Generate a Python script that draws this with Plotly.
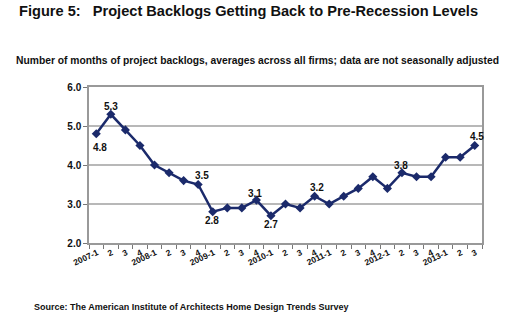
import plotly.graph_objects as go

# Quarterly project backlog (months), 2007-Q1 .. 2013-Q3
quarters = ["2007-1", "2", "3", "4", "2008-1", "2", "3", "4", "2009-1", "2", "3", "4",
            "2010-1", "2", "3", "4", "2011-1", "2", "3", "4", "2012-1", "2", "3", "4",
            "2013-1", "2", "3"]
backlog = [4.8, 5.3, 4.9, 4.5, 4.0, 3.8, 3.6, 3.5, 2.8, 2.9, 2.9, 3.1,
           2.7, 3.0, 2.9, 3.2, 3.0, 3.2, 3.4, 3.7, 3.4, 3.8, 3.7, 3.7,
           4.2, 4.2, 4.5]

# Which points get a value label, and the label's pixel offset (dx, dy) from the marker
label_offsets = {0: (4, -14), 1: (0, 8), 7: (4, 9), 8: (-1, -9), 11: (-1, 7),
                 12: (0, -9), 15: (2, 9), 21: (-1, 7), 26: (2, 9)}

NAVY = "#1b2a6b"
GRID = "#b8b8b8"
FONT = "Liberation Sans, Arial, sans-serif"

xs = list(range(len(quarters)))

fig = go.Figure()
fig.add_trace(go.Scatter(
    x=xs, y=backlog, mode="lines+markers",
    line=dict(color=NAVY, width=2.5),
    marker=dict(symbol="diamond", size=7, color=NAVY),
    hoverinfo="skip", showlegend=False,
))

for i, (dx, dy) in label_offsets.items():
    fig.add_annotation(
        x=xs[i], y=backlog[i], text=f"{backlog[i]:.1f}", showarrow=False,
        xshift=dx, yshift=dy, yanchor="middle",
        font=dict(family=FONT, size=10, color="#111", weight="bold"),
    )

fig.add_annotation(
    xref="paper", yref="paper", x=-0.183, y=1.488, xanchor="left", yanchor="middle",
    text="Figure 5:\u00a0\u00a0\u00a0Project Backlogs Getting Back to Pre-Recession Levels",
    showarrow=False, font=dict(family=FONT, size=14.6, color="#111", weight="bold"),
)
fig.add_annotation(
    xref="paper", yref="paper", x=-0.191, y=1.173, xanchor="left", yanchor="middle",
    text="Number of months of project backlogs, averages across all firms; data are not seasonally adjusted",
    showarrow=False, font=dict(family=FONT, size=10.3, color="#111", weight="bold"),
)
fig.add_annotation(
    xref="paper", yref="paper", x=-0.145, y=-0.41, xanchor="left", yanchor="middle",
    text="Source: The American Institute of Architects Home Design Trends Survey",
    showarrow=False, font=dict(family=FONT, size=9.0, color="#111", weight="bold"),
)

fig.update_layout(
    width=530, height=329,
    margin=dict(l=89, r=48, t=87, b=86),
    paper_bgcolor="white", plot_bgcolor="white",
    font=dict(family=FONT, color="#111"),
)
fig.update_xaxes(
    range=[-0.5, len(quarters) - 0.5],
    tickmode="array", tickvals=xs, ticktext=quarters,
    ticks="", tickangle=-25, ticklabelstandoff=0, ticklabelshift=1,
    tickfont=dict(family=FONT, size=8.5, weight="bold"),
    showgrid=False, zeroline=False,
    showline=True, linecolor="#999", linewidth=1.5, mirror=True,
    minor=dict(tickmode="array", tickvals=[x - 0.5 for x in xs] + [xs[-1] + 0.5],
               ticks="outside", ticklen=4, tickcolor="#777", showgrid=False),
)
fig.update_yaxes(
    range=[2.0, 6.0], tickmode="linear", tick0=2.0, dtick=1.0, tickformat=".1f",
    ticks="outside", ticklen=4, tickcolor="#777",
    tickfont=dict(family=FONT, size=10, weight="bold"),
    showgrid=True, gridcolor=GRID, gridwidth=1.5, zeroline=False,
    showline=True, linecolor="#999", linewidth=1.5, mirror=True,
)

fig.write_html("out.html")
